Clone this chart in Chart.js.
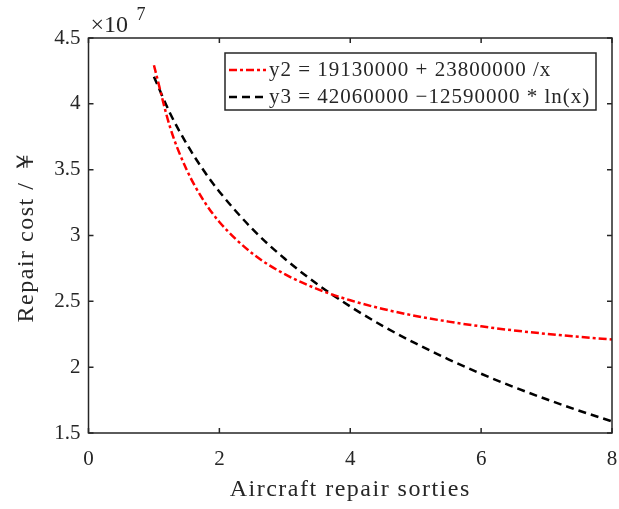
<!DOCTYPE html>
<html>
<head>
<meta charset="utf-8">
<script src="https://cdn.jsdelivr.net/npm/chart.js@4"></script>
<style>
  html, body { margin: 0; padding: 0; background: #fff; }
  canvas { display: block; }
</style>
</head>
<body>
<canvas id="chart" width="619" height="509"></canvas>
<script>
// values
var sorties = [1, 1.25, 1.5, 1.75, 2, 2.5, 3, 3.5, 4, 4.5, 5, 5.5, 6, 6.5, 7, 7.5, 8];
var costY2 = [42930000, 38170000, 35000000, 32730000, 31030000, 28650000, 27060000, 25930000,
              25080000, 24420000, 23890000, 23460000, 23100000, 22790000, 22530000, 22300000, 22110000];
var costY3 = [42060000, 39250000, 36960000, 35010000, 33330000, 30520000, 28230000, 26290000,
              24610000, 23120000, 21800000, 20600000, 19500000, 18490000, 17560000, 16690000, 15880000];
var seriesNames = ['y2 = 19130000 + 23800000 /x', 'y3 = 42060000 \u221212590000 * ln(x)'];
var xTicks = [0, 2, 4, 6, 8];
var yTicks = [15000000, 20000000, 25000000, 30000000, 35000000, 40000000, 45000000];

var ink = '#262626';
var serif = '"Liberation Serif", "DejaVu Serif", serif';

function toPoints(xs, ys) {
    return xs.map(function (x, i) { return {x: x, y: ys[i]}; });
}

var framePlugin = {
    id: 'matlabFrame',
    afterDraw: function (chart) {
        var ctx = chart.ctx;
        var a = chart.chartArea;
        var xs = chart.scales.x, ys = chart.scales.y;
        ctx.save();
        ctx.strokeStyle = ink;
        ctx.lineWidth = 1.5;
        ctx.strokeRect(a.left, a.top, a.right - a.left, a.bottom - a.top);
        // inward ticks on all four sides
        ctx.beginPath();
        xTicks.forEach(function (v) {
            var px = xs.getPixelForValue(v);
            ctx.moveTo(px, a.bottom); ctx.lineTo(px, a.bottom - 5);
            ctx.moveTo(px, a.top); ctx.lineTo(px, a.top + 5);
        });
        yTicks.forEach(function (v) {
            var py = ys.getPixelForValue(v);
            ctx.moveTo(a.left, py); ctx.lineTo(a.left + 5, py);
            ctx.moveTo(a.right, py); ctx.lineTo(a.right - 5, py);
        });
        ctx.stroke();

        ctx.fillStyle = ink;
        // exponent
        ctx.textBaseline = 'alphabetic';
        ctx.textAlign = 'left';
        ctx.font = '24px ' + serif;
        ctx.fillText('\u00d710', a.left + 2, a.top - 6);
        ctx.font = '18px ' + serif;
        ctx.fillText('7', a.left + 48, a.top - 18);

        // axis titles
        ctx.font = '24px ' + serif;
        ctx.letterSpacing = '1.5px';
        ctx.textAlign = 'center';
        ctx.textBaseline = 'middle';
        ctx.fillText('Aircraft repair sorties', (a.left + a.right) / 2, 490);
        ctx.save();
        ctx.translate(27, (a.top + a.bottom) / 2);
        ctx.rotate(-Math.PI / 2);
        ctx.fillText('Repair cost / \uffe5', 0, 0);
        ctx.restore();

        // legend
        var lx = 225, ly = 53, lw = 371, lh = 57;
        ctx.fillStyle = '#fff';
        ctx.fillRect(lx, ly, lw, lh);
        ctx.strokeStyle = ink;
        ctx.lineWidth = 1.5;
        ctx.strokeRect(lx, ly, lw, lh);
        ctx.font = '21px ' + serif;
        ctx.letterSpacing = '1px';
        ctx.textAlign = 'left';
        chart.data.datasets.forEach(function (ds, i) {
            var yy = ly + 17 + i * 27;
            ctx.strokeStyle = ds.borderColor;
            ctx.lineWidth = ds.borderWidth;
            ctx.setLineDash(ds.borderDash);
            ctx.beginPath();
            ctx.moveTo(lx + 4, yy); ctx.lineTo(lx + 41, yy);
            ctx.stroke();
            ctx.setLineDash([]);
            ctx.fillStyle = ink;
            ctx.fillText(ds.label, lx + 44, yy);
        });
        ctx.restore();
    }
};

new Chart(document.getElementById('chart'), {
    type: 'line',
    data: {
        datasets: [{
            label: seriesNames[0],
            data: toPoints(sorties, costY2),
            borderColor: '#ff0000',
            borderWidth: 2.5,
            borderDash: [8, 3, 3, 3],
            pointRadius: 0,
            cubicInterpolationMode: 'monotone',
            fill: false
        }, {
            label: seriesNames[1],
            data: toPoints(sorties, costY3),
            borderColor: '#000000',
            borderWidth: 2.5,
            borderDash: [8, 5],
            pointRadius: 0,
            cubicInterpolationMode: 'monotone',
            fill: false
        }]
    },
    options: {
        responsive: false,
        animation: false,
        layout: {padding: {left: 0, top: 38, right: 7, bottom: 0}},
        plugins: {legend: {display: false}, tooltip: {enabled: false}},
        scales: {
            x: {
                type: 'linear', min: 0, max: 8,
                afterBuildTicks: function (s) { s.ticks = xTicks.map(function (v) { return {value: v}; }); },
                afterFit: function (s) { s.height = 76; s.paddingLeft = 0; s.paddingRight = 0; },
                grid: {display: false, drawTicks: false},
                border: {display: false},
                ticks: {color: ink, padding: 14, font: {family: serif, size: 21}}
            },
            y: {
                min: 15000000, max: 45000000,
                afterBuildTicks: function (s) { s.ticks = yTicks.map(function (v) { return {value: v}; }); },
                afterFit: function (s) { s.width = 88.5; s.paddingTop = 0; s.paddingBottom = 0; },
                grid: {display: false, drawTicks: false},
                border: {display: false},
                ticks: {
                    color: ink, padding: 8, font: {family: serif, size: 21},
                    callback: function (v) { return String(v / 1e7); }
                }
            }
        }
    },
    plugins: [framePlugin]
});
</script>
</body>
</html>
